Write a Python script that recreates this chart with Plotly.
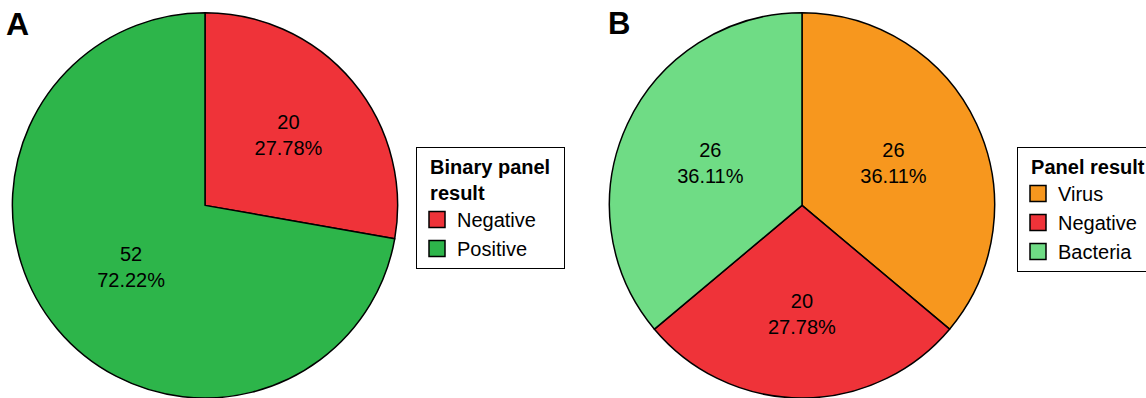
import plotly.graph_objects as go

W, H = 1146, 398

labels_a = ["Negative", "Positive"]
values_a = [20, 52]
colors_a = ["#EF3339", "#2DB54A"]

labels_b = ["Virus", "Negative", "Bacteria"]
values_b = [26, 20, 26]
colors_b = ["#F7971E", "#EF3339", "#6FDC85"]

title_a = "Binary panel<br>result"
title_b = "Panel result"
panel_tags = ["A", "B"]

FONT = "Liberation Sans, Arial, sans-serif"
NB = "\u00a0\u00a0"

fig = go.Figure()


def add_pie(labels, values, colors, xdom, legend):
    fig.add_trace(go.Pie(
        labels=labels, values=values, sort=False, direction="clockwise", rotation=0,
        marker=dict(colors=colors, line=dict(color="black", width=1.5)),
        texttemplate="%{value}<br>%{percent:.2%}", textposition="inside",
        insidetextorientation="horizontal",
        textfont=dict(family=FONT, size=20, color="black"),
        domain=dict(x=xdom, y=[0, 0.968]),
        showlegend=False, hoverinfo="label+value+percent",
    ))
    # legend entries (larger square swatches than the pie's default)
    for lab, col in zip(labels, colors):
        fig.add_trace(go.Scatter(
            x=[None], y=[None], mode="markers", name=lab, legend=legend,
            marker=dict(symbol="square", size=16, color=col,
                        line=dict(color="black", width=1.5)),
            hoverinfo="skip",
        ))


add_pie(labels_a, values_a, colors_a, [12 / W, 398 / W], "legend")
add_pie(labels_b, values_b, colors_b, [609 / W, 995 / W], "legend2")

legend_common = dict(
    bordercolor="black", borderwidth=1, bgcolor="white",
    font=dict(family=FONT, size=20, color="black"),
    xanchor="left", yanchor="top", tracegroupgap=0, traceorder="normal",
)


def pad_title(t):
    return "<br>".join(NB + line + NB for line in t.split("<br>"))


fig.update_layout(
    width=W, height=H,
    margin=dict(l=0, r=0, t=0, b=0, autoexpand=False),
    paper_bgcolor="white", plot_bgcolor="white",
    font=dict(family=FONT, color="black"),
    xaxis=dict(visible=False), yaxis=dict(visible=False),
    legend=dict(x=416 / W, y=1 - 147 / H,
                title=dict(text="<b>" + pad_title(title_a) + "</b>",
                           font=dict(family=FONT, size=20)),
                **legend_common),
    legend2=dict(x=1017 / W, y=1 - 147 / H,
                 title=dict(text="<b>" + pad_title(title_b) + "</b>",
                            font=dict(family=FONT, size=20)),
                 **legend_common),
    annotations=[
        dict(text="<b>%s</b>" % panel_tags[0], x=4 / W, y=1 - 4 / H, xref="paper", yref="paper",
             xanchor="left", yanchor="top", showarrow=False,
             font=dict(family=FONT, size=32, color="black")),
        dict(text="<b>%s</b>" % panel_tags[1], x=606 / W, y=1 - 4 / H, xref="paper", yref="paper",
             xanchor="left", yanchor="top", showarrow=False,
             font=dict(family=FONT, size=31, color="black")),
    ],
)

fig.write_html("out.html", config={"displayModeBar": False},
               post_script="document.body.style.margin='0px';")
